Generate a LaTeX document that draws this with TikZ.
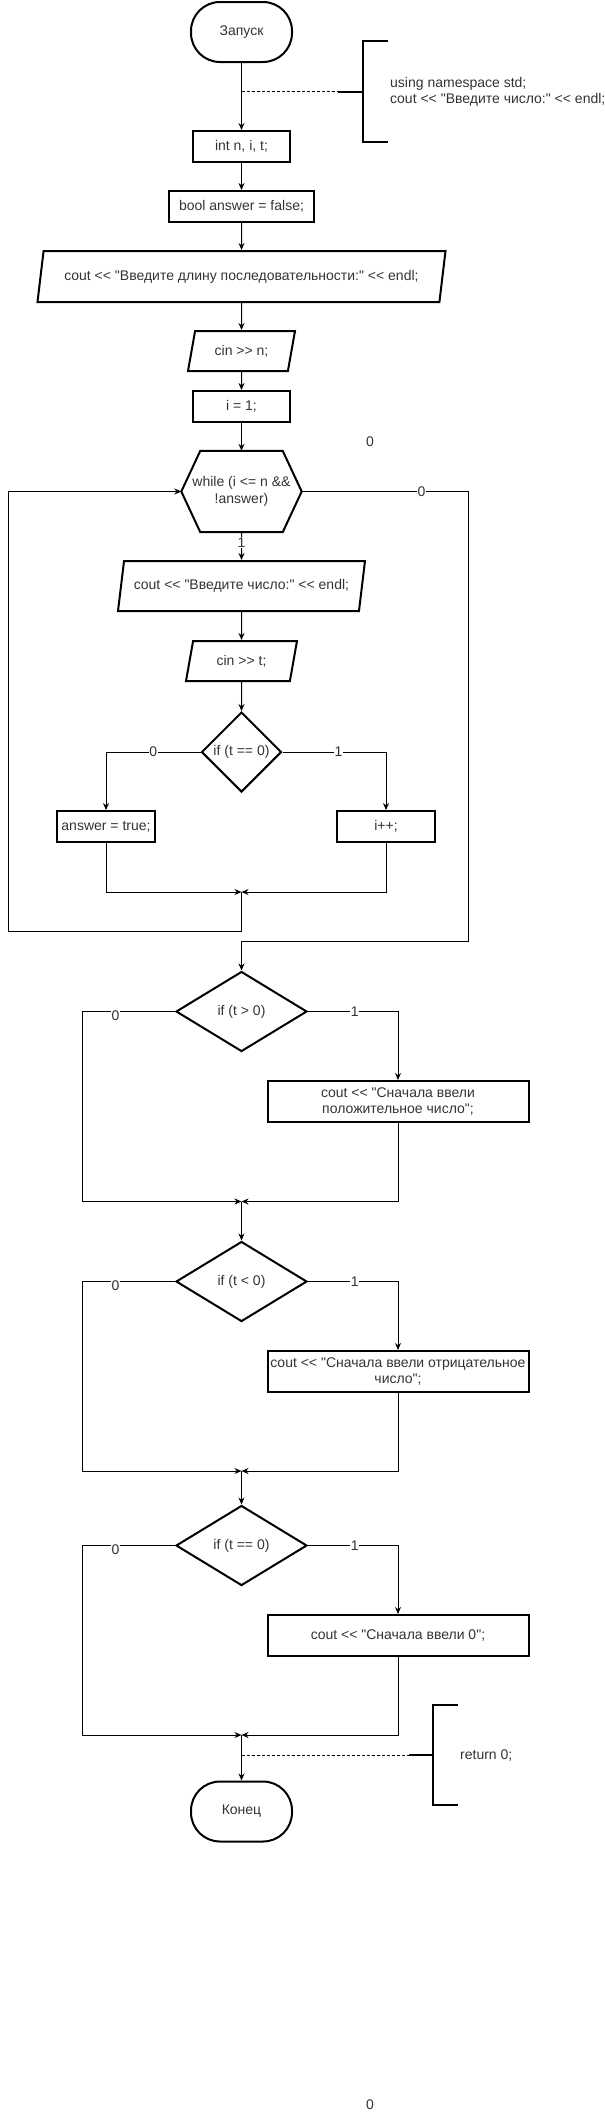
\documentclass[tikz,border=0pt]{standalone}
\usepackage{fontspec}
\setmainfont{Liberation Sans}[Ligatures=TeXOff]
\usetikzlibrary{shapes.geometric,arrows.meta}

\begin{document}
\begin{tikzpicture}[
        x=1pt, y=-1pt,
        font=\fontsize{14}{16.5}\selectfont,
        every node/.style={text=black!80},
        term/.style={draw=black,line width=2pt,rounded corners=29pt,minimum width=101pt,minimum height=60pt,inner sep=0pt},
        proc/.style={draw=black,line width=2pt,minimum height=31pt,inner sep=1pt,align=center},
        io/.style={draw=black,line width=2pt,trapezium,trapezium left angle=68,trapezium right angle=112,trapezium stretches body,inner sep=1pt},
        ioshort/.style={io,trapezium left angle=63,trapezium right angle=117,minimum height=40pt},
        cond/.style={draw=black,line width=2pt,diamond,inner sep=0pt,align=center},
        flow/.style={line width=1pt,-{Stealth[length=7pt,width=6pt]}},
        lbl/.style={fill=white,inner sep=0.5pt},
        note/.style={line width=1pt,dash pattern=on 3pt off 2pt},
        brace/.style={line width=2pt}
    ]
    \useasboundingbox (0,0) rectangle (605,2113);

    % main column
    \node[term] (start) at (241.5,32) {Запуск};
    \node[proc,minimum width=97pt] (decl) at (241.5,146.5) {int n, i, t;};
    \node[proc,minimum width=145pt] (flag) at (241.5,206.5) {bool answer = false;};
    \node[io,minimum width=408pt,minimum height=51pt] (askn) at (241.5,276.5) {cout << "Введите длину последовательности:" << endl;};
    \node[ioshort,minimum width=107pt] (readn) at (241.5,351) {cin >> n;};
    \node[proc,minimum width=97pt] (init) at (241.5,406.5) {i = 1;};
    \node (stray1) at (370,442) {0};

    % loop head
    \node[minimum width=120pt,minimum height=81pt,inner sep=0pt,align=center] (loop) at (241.5,491.5) {while (i <= n \&\&\\!answer)};
    \draw[brace] (loop.west) -- ([xshift=19pt]loop.north west) -- ([xshift=-19pt]loop.north east) -- (loop.east) -- ([xshift=-19pt]loop.south east) -- ([xshift=19pt]loop.south west) -- cycle;

    % loop body
    \node[io,minimum width=247pt,minimum height=50pt] (askt) at (241.5,586) {cout << "Введите число:" << endl;};
    \node[ioshort,minimum width=111pt] (readt) at (241.5,661) {cin >> t;};
    \node[cond,minimum width=80pt,minimum height=80pt] (iszero) at (241.5,752) {if (t == 0)};
    \node[proc,minimum width=98pt] (found) at (106,826.5) {answer = true;};
    \node[proc,minimum width=98pt] (incr) at (386,826.5) {i++;};

    % checks after the loop
    \node[cond,minimum width=131pt,minimum height=80pt] (ifpos) at (241.5,1011.5) {if (t > 0)};
    \node[proc,minimum width=261pt,minimum height=41pt] (pmsg) at (398,1101.5) {cout << "Сначала ввели\\положительное число";};
    \node[cond,minimum width=131pt,minimum height=80pt] (ifneg) at (241.5,1281.5) {if (t < 0)};
    \node[proc,minimum width=261pt,minimum height=41pt] (nmsg) at (398,1371.5) {cout << "Сначала ввели отрицательное\\число";};
    \node[cond,minimum width=131pt,minimum height=80pt] (ifnil) at (241.5,1545.5) {if (t == 0)};
    \node[proc,minimum width=261pt,minimum height=41pt] (zmsg) at (398,1635.5) {cout << "Сначала ввели 0";};
    \node[term] (finish) at (241.5,1811.5) {Конец};
    \node (stray2) at (370,2105) {0};

    % comments
    \coordinate (tap1) at (241.5,91.5);
    \coordinate (br1) at (363,91.5);
    \draw[brace] (br1) ++(25,-50.5) -- ++(-25,0) -- ++(0,101) -- ++(25,0);
    \draw[brace] (br1) -- ++(-25,0);
    \draw[note] (tap1) -- ([xshift=-25pt]br1);
    \node[anchor=west,align=left,inner sep=0pt] (note1) at (390,92) {using namespace std;\\cout << "Введите число:" << endl;};

    \coordinate (tap2) at (241.5,1755);
    \coordinate (br2) at (433,1755);
    \draw[brace] (br2) ++(25,-50) -- ++(-25,0) -- ++(0,100) -- ++(25,0);
    \draw[brace] (br2) -- ++(-24,0);
    \draw[note] (tap2) -- ([xshift=-24pt]br2);
    \node[anchor=west,inner sep=0pt] (note2) at (460,1755) {return 0;};

    % connectors
    \draw[flow] (start.south) -- (decl.north);
    \draw[flow] (decl.south) -- (flag.north);
    \draw[flow] (flag.south) -- (askn.north);
    \draw[flow] (askn.south) -- (readn.north);
    \draw[flow] (readn.south) -- (init.north);
    \draw[flow] (init.south) -- (loop.north);
    \draw[flow] (loop.south) -- node[lbl,pos=0.38] {1} (askt.north);
    \draw[flow] (askt.south) -- (readt.north);
    \draw[flow] (readt.south) -- (iszero.north);
    \draw[flow] (iszero.west) -| node[lbl,pos=0.25] {0} (found.north);
    \draw[flow] (iszero.east) -| node[lbl,pos=0.27] {1} (incr.north);

    \coordinate (join0) at (241.5,892);
    \coordinate (backL) at (8,931);
    \coordinate (backR) at (468,941);
    \draw[flow] (found.south) |- (join0);
    \draw[flow] (incr.south) |- (join0);
    \draw[flow] (join0) |- (backL) |- (loop.west);
    \draw[flow] (loop.east) -| node[lbl,pos=0.36] {0} (backR) -| (ifpos.north);

    \coordinate (join1) at (241.5,1201.5);
    \coordinate (left1) at (82,1201.5);
    \draw[flow] (ifpos.west) -| node[lbl,pos=0.32,yshift=-4pt] {0} (left1) -- (join1);
    \draw[flow] (ifpos.east) -| node[lbl,pos=0.26] {1} (pmsg.north);
    \draw[flow] (pmsg.south) |- (join1);
    \draw[flow] (join1) -- (ifneg.north);

    \coordinate (join2) at (241.5,1471);
    \coordinate (left2) at (82,1471);
    \draw[flow] (ifneg.west) -| node[lbl,pos=0.32,yshift=-4pt] {0} (left2) -- (join2);
    \draw[flow] (ifneg.east) -| node[lbl,pos=0.26] {1} (nmsg.north);
    \draw[flow] (nmsg.south) |- (join2);
    \draw[flow] (join2) -- (ifnil.north);

    \coordinate (join3) at (241.5,1735);
    \coordinate (left3) at (82,1735);
    \draw[flow] (ifnil.west) -| node[lbl,pos=0.32,yshift=-4pt] {0} (left3) -- (join3);
    \draw[flow] (ifnil.east) -| node[lbl,pos=0.26] {1} (zmsg.north);
    \draw[flow] (zmsg.south) |- (join3);
    \draw[flow] (join3) -- (finish.north);
\end{tikzpicture}
\end{document}
